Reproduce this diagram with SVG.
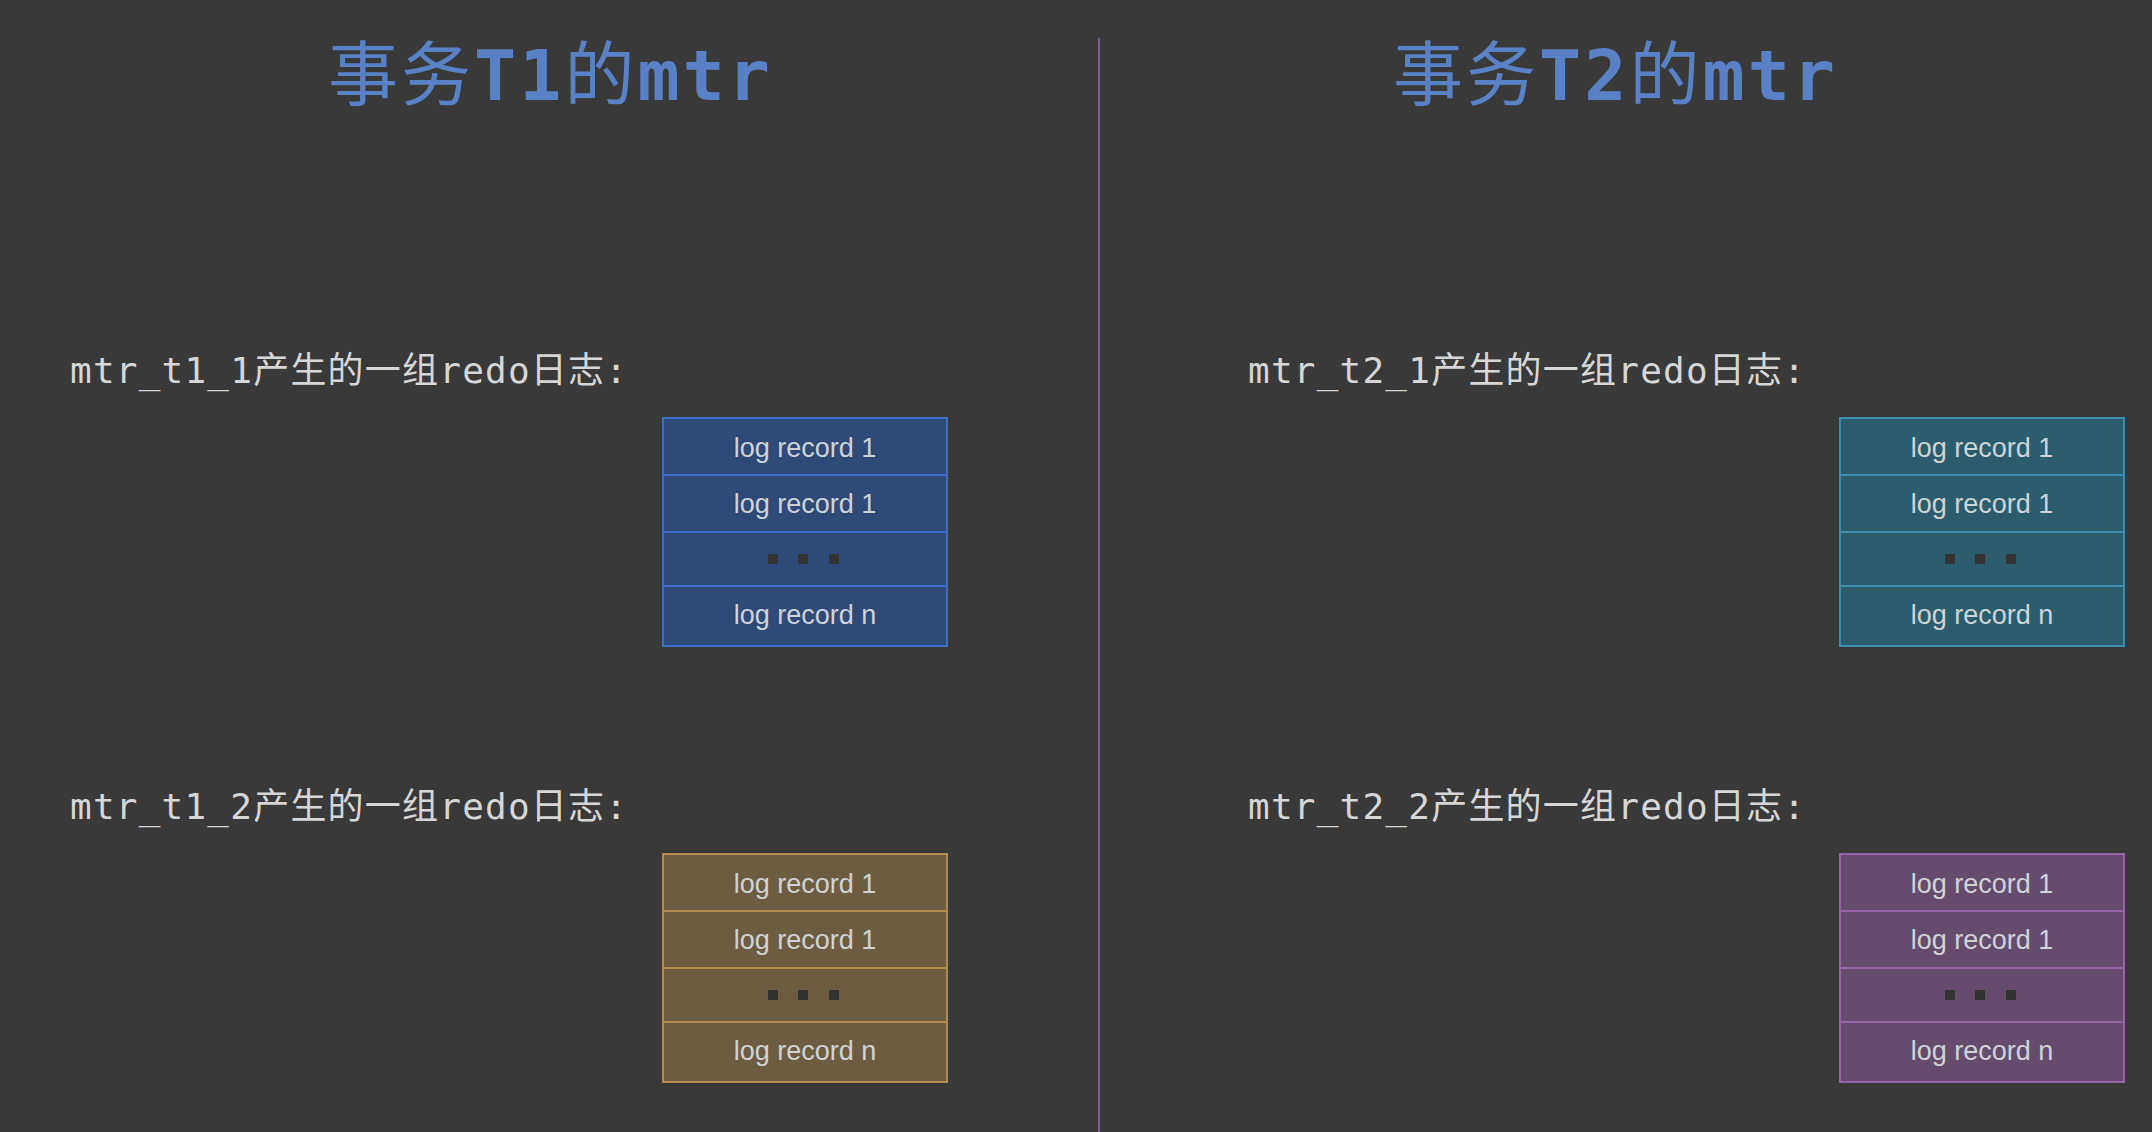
<svg xmlns="http://www.w3.org/2000/svg" width="2152" height="1132" viewBox="0 0 2152 1132">
<style>
.title{font-family:"DejaVu Sans Mono","Noto Sans CJK SC",monospace;font-size:70px;font-weight:bold;fill:#5a80c6;text-anchor:middle}
.cjk{font-weight:normal}
.label{font-family:"DejaVu Sans Mono","Noto Sans CJK SC",monospace;font-size:36px;fill:#d6d6d6}
.rec{font-family:"Liberation Sans",Arial,sans-serif;font-size:27px;fill:#cfd3d6;text-anchor:middle}
.dot{fill:#333333}
.blue rect.box{fill:#2f4a78;stroke:#3e6cc9}
.blue line{stroke:#3e6cc9}
.gold rect.box{fill:#6c5d42;stroke:#b38b4f}
.gold line{stroke:#b38b4f}
.teal rect.box{fill:#2c5d6d;stroke:#3a8fb0}
.teal line{stroke:#3a8fb0}
.purple rect.box{fill:#654c6d;stroke:#9563a6}
.purple line{stroke:#9563a6}
rect.box{stroke-width:2}
line{stroke-width:2}
</style>
<rect x="0" y="0" width="2152" height="1132" fill="#393939"/>
<line x1="1099" y1="38" x2="1099" y2="1132" style="stroke:#7d5a92;stroke-width:2"/>
<g id="title-t1"><text class="title" x="549" y="100" textLength="442" lengthAdjust="spacing"><tspan class="cjk">事务</tspan>T1<tspan class="cjk">的</tspan>mtr</text></g>
<g id="title-t2"><text class="title" x="1614" y="100" textLength="442" lengthAdjust="spacing"><tspan class="cjk">事务</tspan>T2<tspan class="cjk">的</tspan>mtr</text></g>
<g id="label-t1-1"><text class="label" x="70" y="383" textLength="557" lengthAdjust="spacing">mtr_t1_1产生的一组redo日志:</text></g>
<g id="label-t1-2"><text class="label" x="70" y="819" textLength="557" lengthAdjust="spacing">mtr_t1_2产生的一组redo日志:</text></g>
<g id="label-t2-1"><text class="label" x="1248" y="383" textLength="557" lengthAdjust="spacing">mtr_t2_1产生的一组redo日志:</text></g>
<g id="label-t2-2"><text class="label" x="1248" y="819" textLength="557" lengthAdjust="spacing">mtr_t2_2产生的一组redo日志:</text></g>
<g id="block-t1-1" class="blue" transform="translate(663,418)">
<rect class="box" x="0" y="0" width="284" height="228"/>
<line x1="0" y1="57" x2="284" y2="57"/><line x1="0" y1="114" x2="284" y2="114"/><line x1="0" y1="168" x2="284" y2="168"/>
<text class="rec" x="142" y="39">log record 1</text>
<text class="rec" x="142" y="95">log record 1</text>
<rect class="dot" x="105" y="136" width="10" height="10"/><rect class="dot" x="135" y="136" width="10" height="10"/><rect class="dot" x="166" y="136" width="10" height="10"/>
<text class="rec" x="142" y="206">log record n</text>
</g>
<g id="block-t1-2" class="gold" transform="translate(663,854)">
<rect class="box" x="0" y="0" width="284" height="228"/>
<line x1="0" y1="57" x2="284" y2="57"/><line x1="0" y1="114" x2="284" y2="114"/><line x1="0" y1="168" x2="284" y2="168"/>
<text class="rec" x="142" y="39">log record 1</text>
<text class="rec" x="142" y="95">log record 1</text>
<rect class="dot" x="105" y="136" width="10" height="10"/><rect class="dot" x="135" y="136" width="10" height="10"/><rect class="dot" x="166" y="136" width="10" height="10"/>
<text class="rec" x="142" y="206">log record n</text>
</g>
<g id="block-t2-1" class="teal" transform="translate(1840,418)">
<rect class="box" x="0" y="0" width="284" height="228"/>
<line x1="0" y1="57" x2="284" y2="57"/><line x1="0" y1="114" x2="284" y2="114"/><line x1="0" y1="168" x2="284" y2="168"/>
<text class="rec" x="142" y="39">log record 1</text>
<text class="rec" x="142" y="95">log record 1</text>
<rect class="dot" x="105" y="136" width="10" height="10"/><rect class="dot" x="135" y="136" width="10" height="10"/><rect class="dot" x="166" y="136" width="10" height="10"/>
<text class="rec" x="142" y="206">log record n</text>
</g>
<g id="block-t2-2" class="purple" transform="translate(1840,854)">
<rect class="box" x="0" y="0" width="284" height="228"/>
<line x1="0" y1="57" x2="284" y2="57"/><line x1="0" y1="114" x2="284" y2="114"/><line x1="0" y1="168" x2="284" y2="168"/>
<text class="rec" x="142" y="39">log record 1</text>
<text class="rec" x="142" y="95">log record 1</text>
<rect class="dot" x="105" y="136" width="10" height="10"/><rect class="dot" x="135" y="136" width="10" height="10"/><rect class="dot" x="166" y="136" width="10" height="10"/>
<text class="rec" x="142" y="206">log record n</text>
</g>
<g id="connectors"></g>
</svg>
